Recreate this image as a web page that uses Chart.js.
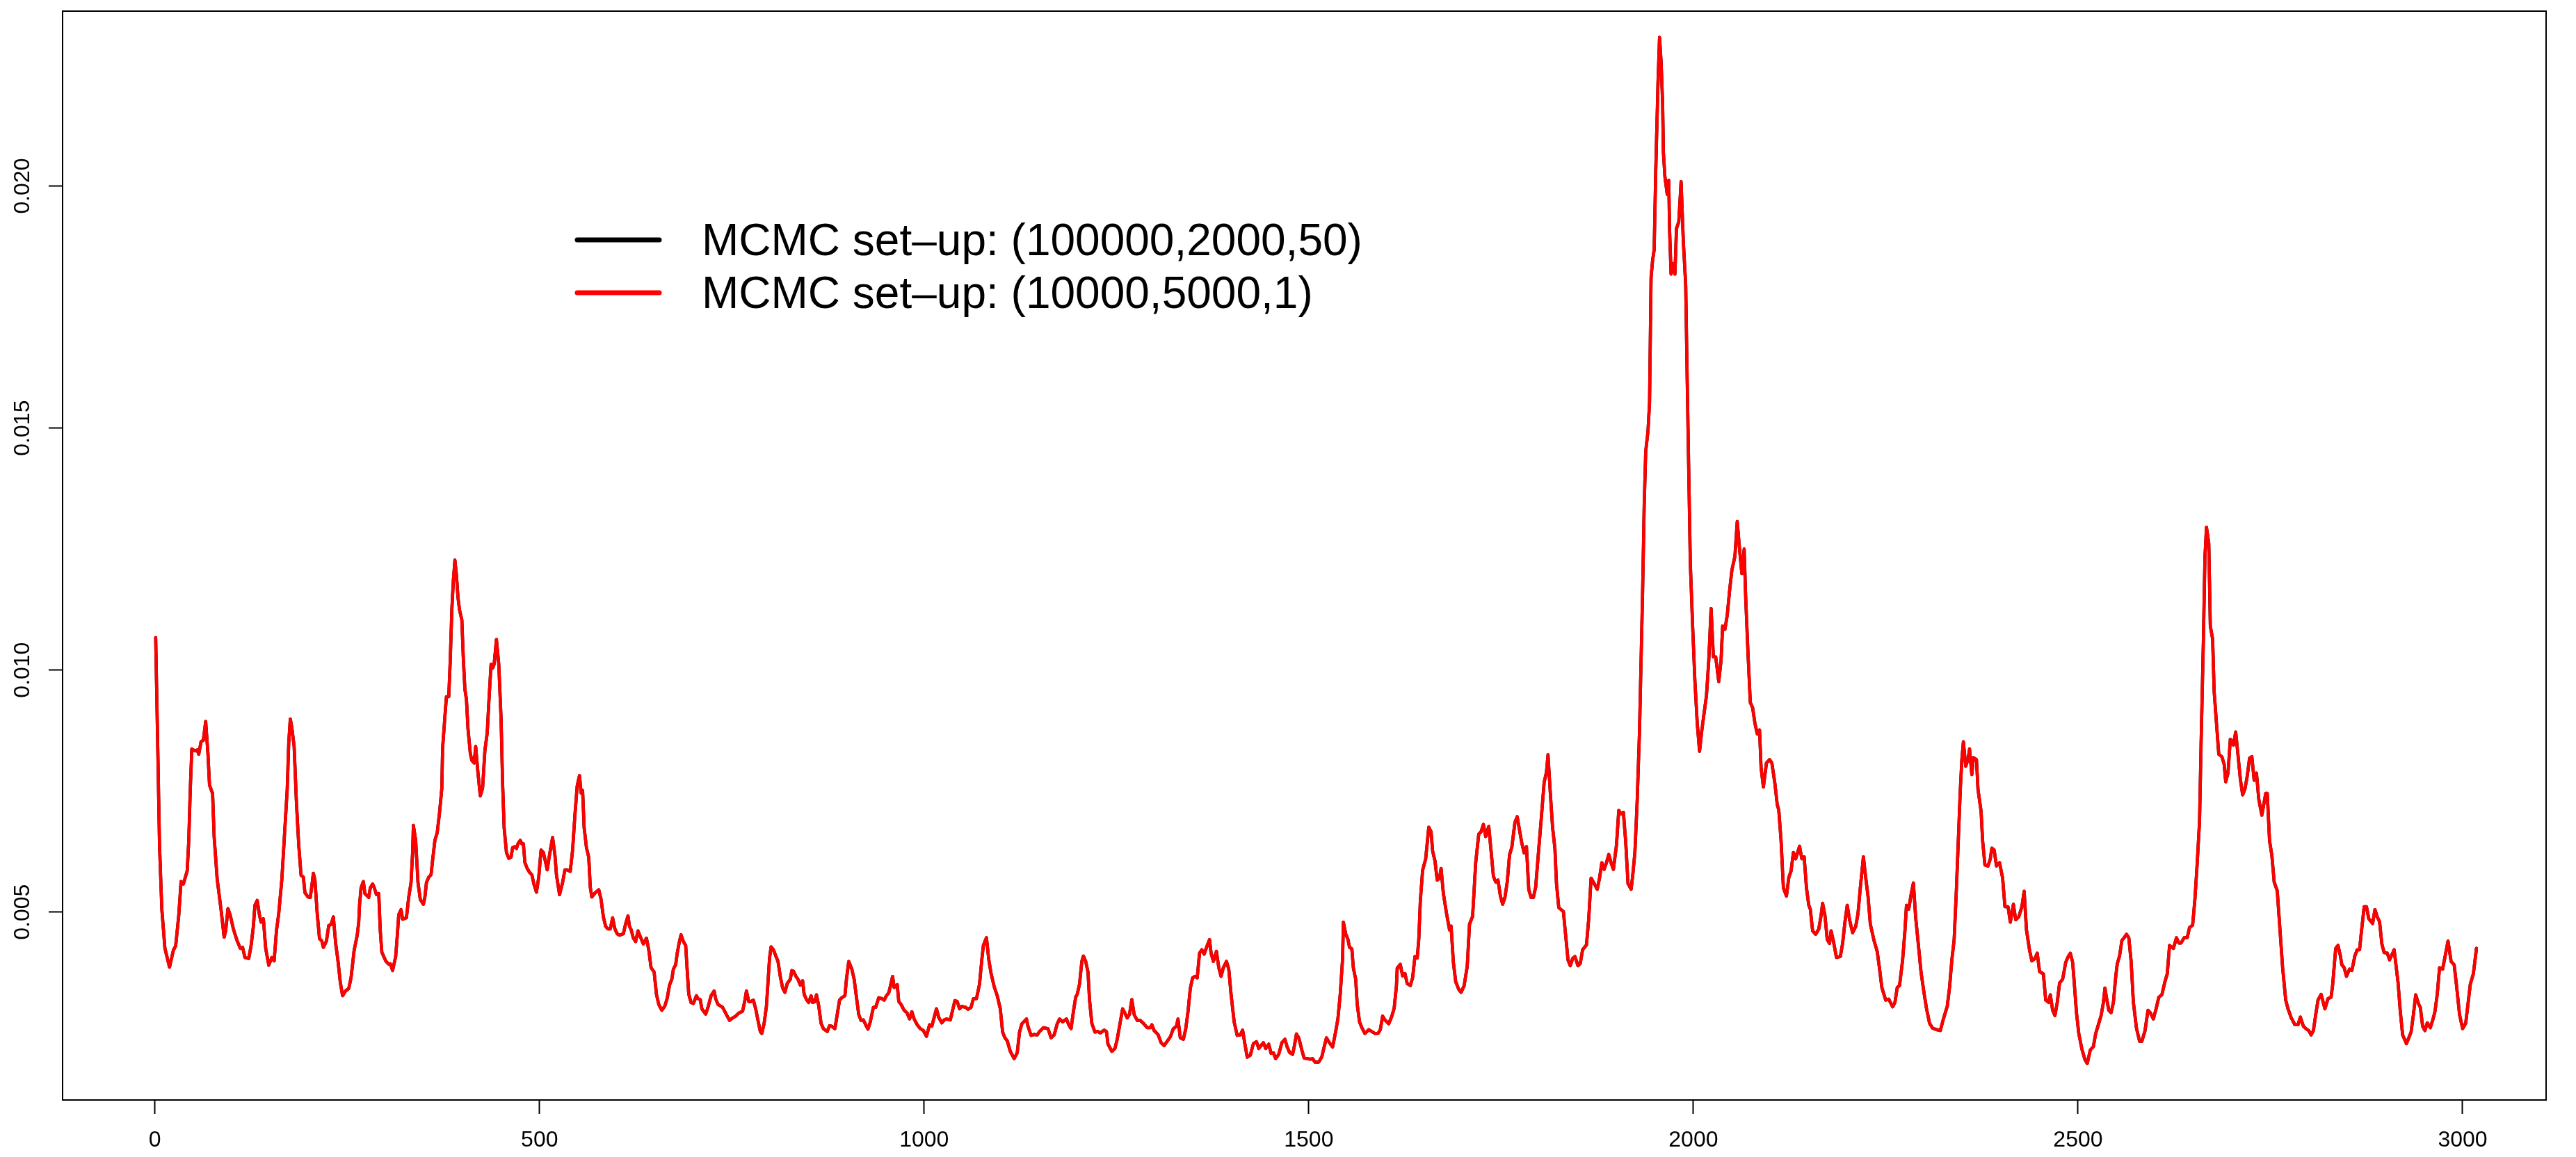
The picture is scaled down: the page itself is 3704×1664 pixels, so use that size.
<!DOCTYPE html>
<html>
<head>
<meta charset="utf-8">
<script src="https://cdn.jsdelivr.net/npm/chart.js@4.4.1/dist/chart.umd.min.js"></script>
<style>
  html, body { margin: 0; padding: 0; background: #fff; }
  canvas { display: block; }
</style>
</head>
<body>
<canvas id="traceChart" width="3704" height="1664"></canvas>
<script>
// iteration index of each point
const iteration = [
  1,4,6,9,13,19,24,27,31,34,
  37,42,44,46,48,52,55,57,60,63,
  66,69,71,75,77,81,86,90,92,95,
  98,102,107,111,114,117,122,125,128,130,
  133,136,138,141,144,148,152,155,158,161,
  165,168,172,174,176,178,181,184,187,190,
  193,195,199,202,204,206,208,211,214,217,
  219,223,226,229,232,235,238,241,244,248,
  252,255,259,263,265,266,268,271,273,278,
  280,283,285,288,291,293,295,300,304,306,
  309,313,315,317,320,322,327,330,333,335,
  336,339,342,345,349,351,353,356,359,361,
  364,367,370,373,374,377,379,382,384,386,
  388,390,392,394,396,399,401,403,405,407,
  410,412,415,417,420,423,426,429,432,434,
  437,439,441,444,447,450,452,454,457,460,
  463,465,468,470,472,475,477,479,481,484,
  487,490,493,496,499,502,505,508,510,513,
  517,520,522,526,530,533,536,540,543,546,
  549,552,554,556,558,561,564,566,568,572,
  577,580,583,586,589,592,595,598,601,604,
  609,612,615,617,619,622,625,628,631,635,
  639,642,645,649,652,655,659,663,666,669,
  672,674,677,679,682,684,687,690,692,694,
  697,700,704,706,709,711,716,719,723,727,
  729,732,735,738,743,747,751,755,759,764,
  767,769,772,775,778,781,784,787,789,792,
  795,797,799,801,804,807,810,813,816,819,
  822,826,828,830,833,836,839,842,844,847,
  850,853,855,858,860,863,866,869,874,877,
  880,884,887,890,893,897,899,902,906,909,
  912,915,918,921,924,927,930,934,937,941,
  945,948,951,954,956,959,961,965,967,970,
  974,978,981,984,987,991,995,999,1003,1007,
  1010,1013,1016,1019,1023,1026,1029,1034,1037,1040,
  1043,1046,1049,1054,1057,1061,1064,1068,1072,1075,
  1077,1081,1084,1087,1091,1095,1099,1102,1105,1108,
  1112,1117,1121,1124,1127,1133,1135,1139,1143,1147,
  1150,1155,1161,1165,1169,1173,1176,1180,1185,1188,
  1191,1194,1197,1199,1202,1205,1207,1210,1213,1215,
  1218,1222,1226,1229,1234,1237,1239,1244,1248,1251,
  1254,1258,1261,1264,1267,1270,1273,1277,1281,1285,
  1290,1294,1296,1299,1304,1308,1312,1316,1320,1324,
  1328,1330,1333,1337,1340,1343,1346,1349,1352,1355,
  1358,1361,1364,1368,1371,1373,1376,1380,1383,1386,
  1389,1393,1396,1399,1403,1407,1411,1414,1417,1420,
  1424,1428,1432,1435,1438,1441,1444,1448,1451,1454,
  1457,1461,1465,1469,1472,1475,1479,1481,1484,1487,
  1491,1494,1498,1502,1505,1508,1513,1517,1520,1523,
  1526,1531,1535,1538,1541,1544,1545,1548,1551,1553,
  1556,1558,1561,1563,1566,1569,1573,1578,1582,1586,
  1590,1593,1596,1599,1604,1608,1611,1614,1615,1619,
  1622,1625,1628,1632,1635,1638,1641,1643,1645,1648,
  1652,1656,1659,1661,1664,1667,1670,1672,1675,1679,
  1683,1685,1688,1691,1695,1698,1702,1706,1709,1713,
  1717,1721,1724,1727,1730,1734,1737,1740,1743,1746,
  1749,1752,1755,1758,1761,1764,1768,1771,1774,1777,
  1780,1783,1786,1789,1792,1795,1799,1802,1806,1809,
  1811,1814,1817,1820,1822,1825,1831,1834,1837,1840,
  1843,1846,1850,1853,1856,1861,1864,1867,1871,1875,
  1878,1881,1884,1887,1890,1893,1896,1900,1903,1906,
  1909,1912,1915,1919,1921,1924,1927,1930,1932,1934,
  1936,1938,1941,1943,1945,1947,1949,1951,1954,1956,
  1958,1960,1961,1963,1966,1968,1969,1971,1973,1976,
  1978,1981,1984,1987,1990,1992,1994,1996,1999,2002,
  2005,2008,2011,2014,2017,2020,2023,2026,2029,2033,
  2036,2038,2041,2044,2047,2050,2054,2057,2060,2063,
  2066,2068,2071,2074,2077,2080,2083,2086,2088,2091,
  2095,2099,2102,2106,2109,2111,2114,2117,2121,2124,
  2127,2130,2133,2138,2141,2144,2147,2150,2152,2155,
  2159,2163,2166,2168,2171,2174,2177,2179,2182,2186,
  2191,2194,2197,2200,2203,2207,2211,2214,2217,2221,
  2224,2227,2230,2235,2239,2242,2245,2250,2254,2259,
  2262,2265,2268,2272,2275,2277,2280,2283,2286,2289,
  2292,2296,2300,2303,2307,2311,2316,2321,2325,2330,
  2333,2336,2339,2342,2345,2347,2349,2351,2354,2357,
  2359,2362,2364,2368,2370,2374,2376,2379,2383,2386,
  2388,2391,2394,2398,2402,2405,2409,2412,2416,2419,
  2423,2427,2430,2433,2437,2440,2444,2447,2450,2455,
  2458,2462,2464,2467,2470,2473,2476,2480,2484,2487,
  2490,2493,2495,2498,2501,2505,2509,2512,2516,2520,
  2523,2527,2530,2533,2535,2537,2540,2543,2546,2549,
  2551,2554,2557,2560,2563,2566,2569,2572,2576,2580,
  2583,2587,2591,2594,2598,2602,2605,2609,2613,2616,
  2619,2624,2628,2631,2634,2638,2642,2645,2649,2652,
  2655,2658,2660,2663,2665,2667,2670,2672,2675,2677,
  2680,2683,2687,2690,2692,2695,2698,2702,2705,2708,
  2711,2714,2717,2720,2723,2726,2729,2732,2735,2739,
  2742,2744,2746,2749,2752,2755,2759,2763,2766,2770,
  2773,2777,2782,2786,2789,2793,2797,2800,2803,2806,
  2809,2812,2816,2821,2825,2829,2831,2835,2838,2841,
  2843,2846,2849,2853,2856,2860,2863,2866,2868,2872,
  2875,2878,2883,2886,2889,2892,2895,2898,2902,2905,
  2911,2913,2916,2919,2922,2927,2930,2933,2936,2939,
  2943,2945,2948,2951,2954,2958,2961,2964,2967,2970,
  2974,2978,2981,2985,2989,2992,2996,3000,3004,3008,
  3010,3014,3018
];

// red trace, MCMC set-up (10000,5000,1)
const chainShort = [
  0.01067,0.00815,0.00638,0.00506,0.00425,0.00386,0.00421,0.0043,0.00493,0.00563,
  0.00558,0.00585,0.00647,0.00753,0.00837,0.00833,0.00835,0.00826,0.00852,0.00855,
  0.00894,0.00826,0.00762,0.00745,0.00656,0.00567,0.00505,0.00448,0.00461,0.00507,
  0.00493,0.00465,0.0044,0.00425,0.00427,0.00406,0.00404,0.0043,0.0047,0.00514,
  0.00524,0.00493,0.00479,0.00486,0.00425,0.0039,0.00406,0.00399,0.00461,0.00497,
  0.00567,0.00647,0.00753,0.0085,0.00899,0.00881,0.00842,0.00726,0.00638,0.00576,
  0.00572,0.0054,0.00531,0.0053,0.00554,0.0058,0.00567,0.00497,0.00445,0.0044,
  0.00427,0.0044,0.00472,0.00474,0.0049,0.00435,0.00399,0.00355,0.00327,0.00337,
  0.00342,0.00364,0.00421,0.00452,0.00479,0.00514,0.0055,0.00563,0.00538,0.0053,
  0.0055,0.00558,0.00551,0.00536,0.00538,0.00461,0.00417,0.00399,0.00392,0.00393,
  0.00379,0.00408,0.00449,0.00495,0.00505,0.00485,0.00488,0.00531,0.00561,0.00623,
  0.00679,0.00648,0.00561,0.00526,0.00516,0.00531,0.00561,0.00572,0.00577,0.00607,
  0.00648,0.00664,0.00705,0.00756,0.00838,0.00904,0.00945,0.00945,0.01022,0.01124,
  0.01186,0.01227,0.01196,0.0115,0.01124,0.01104,0.01022,0.0096,0.00939,0.00879,
  0.00828,0.00813,0.00808,0.00842,0.00787,0.0074,0.00756,0.00834,0.0087,0.0093,
  0.01012,0.01004,0.01012,0.01063,0.01012,0.009,0.00766,0.00674,0.00623,0.00611,
  0.00613,0.00633,0.00635,0.00631,0.00641,0.00648,0.00641,0.00641,0.00602,0.0059,
  0.00582,0.00577,0.00556,0.00541,0.00572,0.00628,0.00623,0.00602,0.00587,0.00618,
  0.00654,0.00618,0.00577,0.00536,0.00561,0.00587,0.00587,0.00584,0.00628,0.007,
  0.00761,0.00782,0.00746,0.00751,0.00674,0.00633,0.00613,0.00551,0.00531,0.00539,
  0.00546,0.00526,0.0049,0.0047,0.00465,0.00465,0.00488,0.00465,0.00455,0.00452,
  0.00455,0.00476,0.00492,0.0047,0.00464,0.00446,0.00439,0.00461,0.00449,0.00434,
  0.00446,0.00422,0.00385,0.00376,0.0033,0.00309,0.00297,0.00306,0.00322,0.00349,
  0.00361,0.00382,0.00391,0.00415,0.0044,0.00453,0.00439,0.00431,0.00379,0.0033,
  0.00313,0.00311,0.00327,0.00321,0.00319,0.003,0.00289,0.00303,0.00327,0.00337,
  0.00321,0.00309,0.00306,0.00303,0.00288,0.00276,0.00281,0.00285,0.00291,0.00295,
  0.00318,0.00337,0.00315,0.00315,0.00318,0.003,0.00276,0.00253,0.00249,0.0027,
  0.00306,0.00355,0.00404,0.00428,0.00422,0.0041,0.00398,0.00367,0.00343,0.00334,
  0.00352,0.00361,0.00379,0.00378,0.00368,0.00361,0.00349,0.00358,0.0033,0.00319,
  0.00313,0.00327,0.00313,0.00315,0.00329,0.00306,0.0027,0.00259,0.00253,0.00265,
  0.00264,0.00259,0.00288,0.00318,0.00323,0.00327,0.00361,0.00398,0.00382,0.00361,
  0.00324,0.00288,0.00276,0.00277,0.00267,0.00258,0.00273,0.00303,0.00303,0.00323,
  0.00321,0.00318,0.00327,0.00333,0.00346,0.00367,0.00344,0.0035,0.00315,0.00309,
  0.00297,0.00291,0.00279,0.00294,0.00279,0.00267,0.00259,0.00255,0.00243,0.00267,
  0.00264,0.00282,0.003,0.00282,0.00271,0.00277,0.00279,0.00277,0.00297,0.00317,
  0.00315,0.003,0.00305,0.00303,0.00299,0.00303,0.00321,0.00321,0.00351,0.00402,
  0.00431,0.00447,0.00402,0.00373,0.00346,0.00327,0.003,0.00252,0.0024,0.00234,
  0.00212,0.00197,0.00209,0.00252,0.00269,0.00279,0.00264,0.00245,0.00247,0.00246,
  0.00253,0.00261,0.00259,0.0024,0.00246,0.00269,0.00279,0.00273,0.00279,0.00267,
  0.00259,0.00294,0.00324,0.0033,0.00351,0.00398,0.00409,0.00398,0.00376,0.00318,
  0.0027,0.00252,0.00253,0.0025,0.00256,0.00253,0.00227,0.00212,0.00218,0.00237,
  0.00264,0.003,0.00291,0.00281,0.00289,0.00319,0.00288,0.00276,0.00276,0.0027,
  0.00261,0.00261,0.00267,0.00255,0.00247,0.0023,0.00224,0.00233,0.00242,0.00259,
  0.00264,0.00279,0.0024,0.00237,0.00258,0.00294,0.00342,0.00364,0.00367,0.00364,
  0.00415,0.00422,0.00413,0.00431,0.00443,0.00415,0.00398,0.00419,0.00385,0.00367,
  0.00385,0.00398,0.00382,0.0033,0.00273,0.00245,0.00246,0.00256,0.00227,0.002,
  0.00204,0.00228,0.00232,0.00218,0.00224,0.0023,0.00218,0.00227,0.00208,0.00209,
  0.00197,0.00206,0.0023,0.00237,0.00221,0.0021,0.00206,0.00221,0.00248,0.0024,
  0.00215,0.00198,0.00197,0.00196,0.00197,0.0019,0.0019,0.00201,0.00221,0.0024,
  0.00232,0.00221,0.00253,0.00281,0.00332,0.00404,0.00479,0.00455,0.00443,0.00427,
  0.00424,0.00384,0.00361,0.00309,0.00273,0.00261,0.00249,0.00257,0.00253,0.00249,
  0.00249,0.00257,0.00285,0.00277,0.00269,0.00285,0.00301,0.00348,0.00384,0.00392,
  0.00368,0.00373,0.00352,0.00348,0.00364,0.00408,0.00405,0.00443,0.00522,0.00586,
  0.0061,0.00675,0.00666,0.00626,0.00606,0.00566,0.0057,0.0059,0.00538,0.00498,
  0.00463,0.00471,0.00396,0.00356,0.0034,0.00334,0.00348,0.00388,0.00475,0.00491,
  0.00602,0.00661,0.00666,0.00681,0.00656,0.00677,0.00626,0.00574,0.00562,0.00566,
  0.00534,0.00516,0.0053,0.00562,0.00618,0.00634,0.00685,0.00697,0.00669,0.00642,
  0.00622,0.00635,0.00546,0.0053,0.0053,0.00552,0.00631,0.00688,0.00768,0.00789,
  0.00825,0.00746,0.00674,0.00631,0.00559,0.00509,0.00501,0.00451,0.00401,0.00389,
  0.00404,0.00408,0.00389,0.00394,0.00422,0.00432,0.00487,0.0057,0.00559,0.00547,
  0.0057,0.00602,0.00588,0.00602,0.00619,0.00602,0.00588,0.00638,0.0071,0.00703,
  0.00706,0.00645,0.00559,0.00547,0.00573,0.00624,0.00732,0.00876,0.0102,0.01163,
  0.01336,0.01451,0.01494,0.01552,0.01811,0.01847,0.01868,0.02027,0.02214,0.02307,
  0.02257,0.02171,0.0207,0.02019,0.01983,0.02012,0.01912,0.01818,0.0184,0.01818,
  0.01912,0.01926,0.02009,0.01883,0.01796,0.01595,0.01408,0.01221,0.01091,0.00976,
  0.0089,0.00832,0.00876,0.00912,0.00947,0.0102,0.01127,0.01027,0.01027,0.00976,
  0.0102,0.01091,0.01084,0.01113,0.01163,0.01206,0.01235,0.01307,0.0125,0.01199,
  0.0125,0.01149,0.01034,0.00933,0.00922,0.0089,0.00868,0.00876,0.00798,0.00758,
  0.00808,0.00815,0.00808,0.00765,0.00722,0.00711,0.00647,0.0055,0.00533,0.00571,
  0.00585,0.00623,0.0061,0.00636,0.0061,0.00614,0.0055,0.00514,0.00506,0.00461,
  0.00454,0.00465,0.00493,0.00518,0.00493,0.00443,0.00435,0.00461,0.0044,0.00406,
  0.00408,0.00435,0.00479,0.00514,0.00484,0.00457,0.0047,0.00497,0.0055,0.00614,
  0.00571,0.00533,0.00475,0.0044,0.00418,0.00383,0.00344,0.00318,0.0032,0.00304,
  0.00313,0.00344,0.00348,0.00401,0.00461,0.00514,0.00506,0.00536,0.0056,0.00488,
  0.0044,0.00375,0.00331,0.00301,0.0027,0.0026,0.00257,0.00255,0.00279,0.00305,
  0.00344,0.00401,0.00443,0.0055,0.00673,0.00753,0.00815,0.00852,0.00801,0.00815,
  0.00837,0.00784,0.00819,0.00815,0.00753,0.00708,0.00647,0.00597,0.00595,0.0061,
  0.00632,0.00628,0.00595,0.00602,0.0057,0.00511,0.00511,0.00479,0.00516,0.00484,
  0.0049,0.00511,0.00543,0.00463,0.00421,0.00399,0.00404,0.00415,0.00377,0.00372,
  0.00318,0.00313,0.00329,0.00297,0.00286,0.00313,0.00353,0.00361,0.00396,0.00407,
  0.00415,0.00396,0.00356,0.00292,0.00249,0.00217,0.00195,0.00187,0.00215,0.00222,
  0.00249,0.0027,0.00286,0.00313,0.00343,0.00323,0.00297,0.00292,0.00313,0.00366,
  0.00393,0.00409,0.00441,0.00447,0.00454,0.00447,0.00399,0.00313,0.0026,0.00233,
  0.00233,0.00254,0.00297,0.00292,0.00279,0.00303,0.00324,0.00329,0.00356,0.00372,
  0.00431,0.00425,0.00447,0.00436,0.00436,0.00447,0.00447,0.00468,0.00473,0.00527,
  0.00602,0.00688,0.00848,0.01062,0.01233,0.01295,0.01262,0.01091,0.01064,0.00955,
  0.0089,0.00826,0.00821,0.00805,0.00769,0.00787,0.00857,0.00845,0.00872,0.00824,
  0.00775,0.00742,0.00754,0.00781,0.00818,0.00821,0.00772,0.00787,0.00733,0.007,
  0.00727,0.00745,0.00745,0.00647,0.00617,0.00562,0.00544,0.00453,0.00385,0.00318,
  0.003,0.00282,0.00267,0.00267,0.00283,0.00264,0.00258,0.00255,0.00246,0.00255,
  0.00288,0.00318,0.0033,0.003,0.00321,0.00324,0.00349,0.00425,0.00431,0.0041,
  0.00391,0.00385,0.00367,0.00382,0.00379,0.0041,0.00422,0.00422,0.00453,0.00511,
  0.00511,0.00486,0.00476,0.00505,0.0049,0.0048,0.00434,0.00416,0.00415,0.00401,
  0.00422,0.00395,0.00355,0.00294,0.00246,0.00228,0.0024,0.00252,0.00288,0.00329,
  0.00309,0.00303,0.00264,0.00255,0.00271,0.00261,0.00276,0.00294,0.0033,0.00385,
  0.00382,0.00415,0.0044,0.00398,0.00391,0.00349,0.00288,0.00259,0.0027,0.00324,
  0.00351,0.00373,0.00425
];

// black trace, MCMC set-up (100000,2000,50): at this scale it lies under the red one
const chainLong = chainShort.slice();

const seriesLabels = ['MCMC set\u2013up: (100000,2000,50)', 'MCMC set\u2013up: (10000,5000,1)'];
const seriesColors = ['#000000', '#ff0000'];
const xTickValues = [0, 500, 1000, 1500, 2000, 2500, 3000];
const yTickValues = [0.005, 0.010, 0.015, 0.020];

Chart.defaults.font.family = '"Liberation Sans", Arial, Helvetica, sans-serif';
Chart.defaults.color = '#000';

function toPoints(values) {
    return iteration.map((x, i) => ({ x: x, y: values[i] }));
}

// box round the plot region, like base R
const boxPlugin = {
    id: 'box',
    afterDatasetsDraw(chart) {
        const a = chart.chartArea;
        const ctx = chart.ctx;
        ctx.save();
        ctx.strokeStyle = '#000';
        ctx.lineWidth = 2;
        ctx.strokeRect(a.left, a.top, a.right - a.left, a.bottom - a.top);
        ctx.restore();
    }
};

// legend sitting inside the plot, no frame
const insideLegend = {
    id: 'insideLegend',
    afterDraw(chart) {
        const ctx = chart.ctx;
        ctx.save();
        ctx.font = '64px "Liberation Sans", Arial, sans-serif';
        ctx.fillStyle = '#000';
        ctx.textBaseline = 'alphabetic';
        ctx.lineCap = 'round';
        chart.data.datasets.forEach((ds, i) => {
            const y = 345 + i * 76;
            ctx.strokeStyle = ds.borderColor;
            ctx.lineWidth = 7;
            ctx.beginPath();
            ctx.moveTo(830, y);
            ctx.lineTo(948, y);
            ctx.stroke();
            ctx.fillText(ds.label, 1009, y + 22);
        });
        ctx.restore();
    }
};

const ctx = document.getElementById('traceChart').getContext('2d');
new Chart(ctx, {
    type: 'line',
    data: {
        datasets: [
            {
                label: seriesLabels[0],
                data: toPoints(chainLong),
                borderColor: seriesColors[0],
                borderWidth: 4.5,
                order: 1
            },
            {
                label: seriesLabels[1],
                data: toPoints(chainShort),
                borderColor: seriesColors[1],
                borderWidth: 4.5,
                order: 0
            }
        ]
    },
    options: {
        responsive: false,
        animation: false,
        devicePixelRatio: 1,
        layout: { padding: { left: 0, top: 16, right: 43, bottom: 0 } },
        elements: {
            point: { radius: 0 },
            line: { tension: 0, fill: false, borderJoinStyle: 'round', borderCapStyle: 'round' }
        },
        plugins: {
            legend: { display: false },
            tooltip: { enabled: false }
        },
        scales: {
            x: {
                type: 'linear',
                min: -120,
                max: 3108.5,
                afterBuildTicks: (s) => { s.ticks = xTickValues.map(v => ({ value: v })); },
                afterFit: (s) => { s.height = 82; s.paddingLeft = 0; s.paddingRight = 0; },
                grid: { drawOnChartArea: false, drawTicks: true, tickLength: 20, tickColor: '#000', tickWidth: 2 },
                border: { display: false },
                ticks: {
                    autoSkip: false,
                    maxRotation: 0,
                    padding: 19,
                    font: { size: 32 },
                    color: '#000',
                    callback: (v) => String(v)
                }
            },
            y: {
                type: 'linear',
                min: 0.001116,
                max: 0.023614,
                afterBuildTicks: (s) => { s.ticks = yTickValues.map(v => ({ value: v })); },
                afterFit: (s) => { s.width = 90; s.paddingTop = 0; s.paddingBottom = 0; },
                grid: { drawOnChartArea: false, drawTicks: true, tickLength: 20, tickColor: '#000', tickWidth: 2 },
                border: { display: false },
                ticks: {
                    autoSkip: false,
                    minRotation: 90,
                    maxRotation: 90,
                    crossAlign: 'center',
                    padding: -3,
                    font: { size: 32 },
                    color: '#000',
                    callback: (v) => v.toFixed(3)
                }
            }
        }
    },
    plugins: [boxPlugin, insideLegend]
});
</script>
</body>
</html>
